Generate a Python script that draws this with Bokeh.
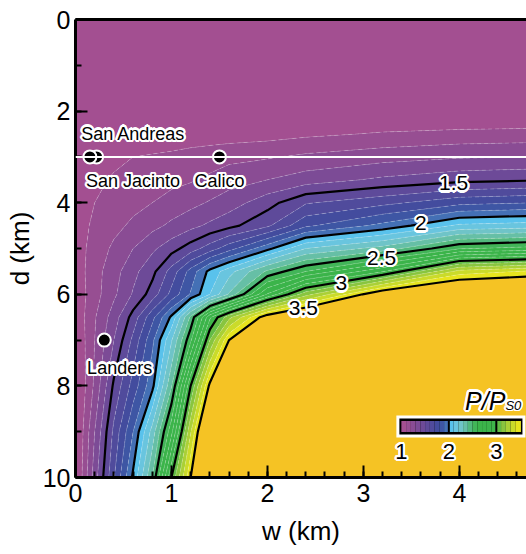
import numpy as np
from bokeh.plotting import figure
from bokeh.models import Range1d, Span, LinearAxis, ColumnDataSource, SingleIntervalTicker
from bokeh.embed import file_html
from bokeh.resources import INLINE
from bokeh.core.properties import value

FONT = "Liberation Sans"

# ---------------- data ----------------
w_km = [0.0, 0.2, 0.4, 0.6, 0.8, 1.0, 1.2, 1.4, 1.6, 2.0, 2.4, 3.2, 4.0, 4.8]
d_km = [0.0, 1.0, 2.0, 2.5, 3.0, 3.5, 4.0, 4.5, 5.0, 5.5, 6.0, 6.5, 7.0, 8.0, 9.0, 10.0]

# P / P_s0 on the (d, w) grid, one row per depth
P_ratio = [
    [0.95, 0.95, 0.95, 0.95, 0.95, 0.95, 0.95, 0.95, 0.95, 0.95, 0.95, 0.95, 0.95, 0.95],
    [0.96, 0.96, 0.96, 0.96, 0.96, 0.96, 0.96, 0.96, 0.96, 0.96, 0.96, 0.96, 0.96, 0.96],
    [0.98, 0.98, 0.98, 0.98, 0.98, 0.98, 0.98, 0.98, 0.98, 0.99, 0.99, 0.99, 0.98, 0.98],
    [1.00, 1.01, 1.02, 1.03, 1.03, 1.04, 1.04, 1.05, 1.05, 1.06, 1.08, 1.11, 1.13, 1.14],
    [1.02, 1.05, 1.08, 1.10, 1.11, 1.12, 1.14, 1.15, 1.17, 1.19, 1.22, 1.26, 1.29, 1.30],
    [1.03, 1.08, 1.11, 1.13, 1.15, 1.17, 1.19, 1.22, 1.26, 1.30, 1.35, 1.42, 1.47, 1.49],
    [1.04, 1.10, 1.14, 1.17, 1.20, 1.24, 1.27, 1.31, 1.35, 1.46, 1.59, 1.67, 1.77, 1.80],
    [1.05, 1.12, 1.17, 1.22, 1.27, 1.32, 1.37, 1.42, 1.47, 1.58, 1.78, 1.93, 2.12, 2.15],
    [1.05, 1.14, 1.22, 1.30, 1.38, 1.46, 1.55, 1.65, 1.76, 1.97, 2.20, 2.34, 2.59, 2.64],
    [1.04, 1.16, 1.26, 1.37, 1.47, 1.64, 1.84, 2.03, 2.16, 2.42, 2.60, 2.89, 3.34, 3.42],
    [1.03, 1.16, 1.28, 1.41, 1.545, 1.73, 1.91, 2.10, 2.31, 2.81, 3.16, 3.62, 3.78, 3.80],
    [1.02, 1.19, 1.35, 1.54, 1.77, 2.02, 2.42, 2.88, 3.17, 3.58, 3.75, 3.85, 3.88, 3.90],
    [1.00, 1.20, 1.40, 1.625, 1.875, 2.19, 2.58, 3.10, 3.50, 3.85, 3.90, 3.92, 3.93, 3.94],
    [0.97, 1.22, 1.52, 1.74, 1.97, 2.39, 3.00, 3.53, 3.80, 3.90, 3.93, 3.95, 3.96, 3.97],
    [0.97, 1.30, 1.625, 1.90, 2.24, 2.67, 3.29, 3.85, 3.92, 3.95, 3.96, 3.97, 3.98, 3.98],
    [0.97, 1.35, 1.69, 2.02, 2.40, 3.00, 3.50, 3.85, 3.93, 3.96, 3.97, 3.98, 3.99, 4.00],
]

# filled contour levels (first band holds everything below 1.1, last band >= 3.5)
fill_levels = [0.0, 1.1, 1.2, 1.3, 1.4, 1.5, 1.6, 1.7, 1.8, 1.9, 2.0, 2.1, 2.2, 2.3, 2.4,
               2.5, 2.6, 2.7, 2.8, 2.9, 3.0, 3.1, 3.2, 3.3, 3.4, 3.5, 5.0]
fill_colors = ["#a34f91", "#974e92", "#8a4c94", "#7c4b96", "#6d4a98", "#5e4a9a", "#504b9c",
               "#434c9e", "#3e56a4", "#4470b5", "#59c2ec", "#69c5df", "#6fc4c8", "#66bfa6",
               "#52b97d", "#42b558", "#3bb44a", "#3bb44a", "#3cb44a", "#3fb54a", "#62bb46",
               "#88c53f", "#aad036", "#cadb2a", "#e6e41e", "#f5c324"]

# colour bar bands (lower edge of each 0.1-wide band from 1.0 to 3.4)
bar_levels = [1.0, 1.1, 1.2, 1.3, 1.4, 1.5, 1.6, 1.7, 1.8, 1.9, 2.0, 2.1, 2.2, 2.3, 2.4,
              2.5, 2.6, 2.7, 2.8, 2.9, 3.0, 3.1, 3.2, 3.3, 3.4]
bar_ticks = [1, 2, 3]
bar_tick_labels = ["1", "2", "3"]

major_levels = [1.5, 2.0, 2.5, 3.0, 3.5]
major_labels = ["1.5", "2", "2.5", "3", "3.5"]
major_label_w = [3.94, 3.60, 3.19, 2.77, 2.375]
major_label_d = [3.58, 4.45, 5.20, 5.76, 6.31]

site_names = ["San Jacinto", "San Andreas", "Calico", "Landers"]
site_w = [0.22, 0.15, 1.5, 0.3]
site_d = [3.0, 3.0, 3.0, 7.0]
site_label_w = [0.11, 0.06, 1.5, 0.46]
site_label_d = [3.52, 2.49, 3.52, 7.60]
site_label_align = ["left", "left", "center", "center"]

fault_depth = 3.0

# ---------------- figure ----------------
p = figure(width=526, height=554, x_range=Range1d(0, 4.7), y_range=Range1d(10, 0),
           output_backend="svg", toolbar_location=None,
           min_border_left=75, min_border_right=0, min_border_top=19, min_border_bottom=77,
           outline_line_color=None, border_fill_color="white",
           x_axis_label="w (km)", y_axis_label="d (km)")
p.grid.visible = False

Z = np.array(P_ratio)
p.contour(x=w_km, y=d_km, z=Z, levels=fill_levels, fill_color=fill_colors,
          line_color="white", line_alpha=0.28, line_width=0.8, line_dash="4 3")
p.contour(x=w_km, y=d_km, z=Z, levels=major_levels, line_color="black", line_width=2.2)

p.add_layout(Span(location=fault_depth, dimension="width", line_color="white", line_width=2))


def halo_text(xs, ys, texts, size, align="center", style="normal", r=2.2):
    src = ColumnDataSource(dict(x=xs, y=ys, t=texts, a=align if isinstance(align, list) else [align] * len(xs)))
    for k in range(16):
        ang = 2 * np.pi * k / 16
        p.text(x="x", y="y", text="t", source=src, text_align="a", text_baseline="middle",
               x_offset=r * np.cos(ang), y_offset=r * np.sin(ang),
               text_color="white", text_font=value(FONT), text_font_size=f"{size}px",
               text_font_style=style)
    p.text(x="x", y="y", text="t", source=src, text_align="a", text_baseline="middle",
           text_color="black", text_font=value(FONT), text_font_size=f"{size}px",
           text_font_style=style)


# contour labels
halo_text(major_label_w, major_label_d, major_labels, 21)

# sites
p.scatter(site_w, site_d, size=13, fill_color="black", line_color="white", line_width=2)
halo_text(site_label_w, site_label_d, site_names, 18, align=site_label_align)

# ---------------- colour bar (inside plot) ----------------
px_w = 1 / 96.0       # km of w per pixel
px_d = 1 / 45.8       # km of d per pixel
cb_x0 = 3.396          # w position of value 1.0
cb_scale = 47.5 * px_w  # w per unit of P/Ps0
cb_top, cb_bot = 8.766, 9.007
cb_left = cb_x0 - 2 * px_w
cb_right = cb_x0 + 2.55 * cb_scale
p.quad(left=cb_left - 3 * px_w, right=cb_right + 3 * px_w, top=cb_top - 5.5 * px_d,
       bottom=cb_bot + 5.5 * px_d, fill_color="white", line_color=None)
p.quad(left=cb_left, right=cb_right, top=cb_top - 2.5 * px_d, bottom=cb_bot + 2.5 * px_d,
       fill_color="black", line_color=None)
bl = [cb_x0 + (v - 1.0) * cb_scale for v in bar_levels]
br = [cb_x0 + (v - 0.9) * cb_scale for v in bar_levels]
br[-1] = cb_right - 1.5 * px_w
p.quad(left=bl, right=br, top=cb_top, bottom=cb_bot, fill_color=fill_colors[:len(bar_levels)],
       line_color=None)
sep_x = [cb_x0 + (v - 1.0) * cb_scale for v in [2, 3]]
p.segment(x0=sep_x, x1=sep_x, y0=[cb_top] * 2, y1=[cb_bot] * 2, line_color="black", line_width=2)
halo_text([cb_x0 + (v - 1.0) * cb_scale for v in bar_ticks], [9.43] * 3, bar_tick_labels, 22)
halo_text([4.48], [8.32], ["P/P"], 25, align="right", style="italic")
halo_text([4.48], [8.42], ["S0"], 13, align="left", style="italic", r=1.8)

# ---------------- axes ----------------
p.xaxis.ticker = SingleIntervalTicker(interval=1, num_minor_ticks=5)
p.yaxis.ticker = SingleIntervalTicker(interval=2, num_minor_ticks=2)
for ax in (p.xaxis[0], p.yaxis[0]):
    ax.axis_line_width = 3
    ax.axis_line_color = "black"
    ax.major_tick_in = 12
    ax.major_tick_out = 0
    ax.minor_tick_in = 6
    ax.minor_tick_out = 0
    ax.major_tick_line_width = 2
    ax.minor_tick_line_width = 2
    ax.major_tick_line_color = "black"
    ax.minor_tick_line_color = "black"
    ax.major_label_text_font = FONT
    ax.major_label_text_font_size = "25px"
    ax.major_label_text_color = "black"
    ax.axis_label_text_font = FONT
    ax.axis_label_text_font_size = "26px"
    ax.axis_label_text_font_style = "normal"
    ax.axis_label_text_color = "black"
p.xaxis.major_label_standoff = 6
p.yaxis.major_label_standoff = 5
p.xaxis.axis_label_standoff = 11
p.yaxis.axis_label_standoff = 5

top = LinearAxis(axis_line_width=3, axis_line_color="black", major_tick_line_color=None,
                 minor_tick_line_color=None, major_label_text_font_size="0px",
                 major_label_text_color=None)
p.add_layout(top, "above")

open("out.html", "w").write(file_html(p, INLINE))
